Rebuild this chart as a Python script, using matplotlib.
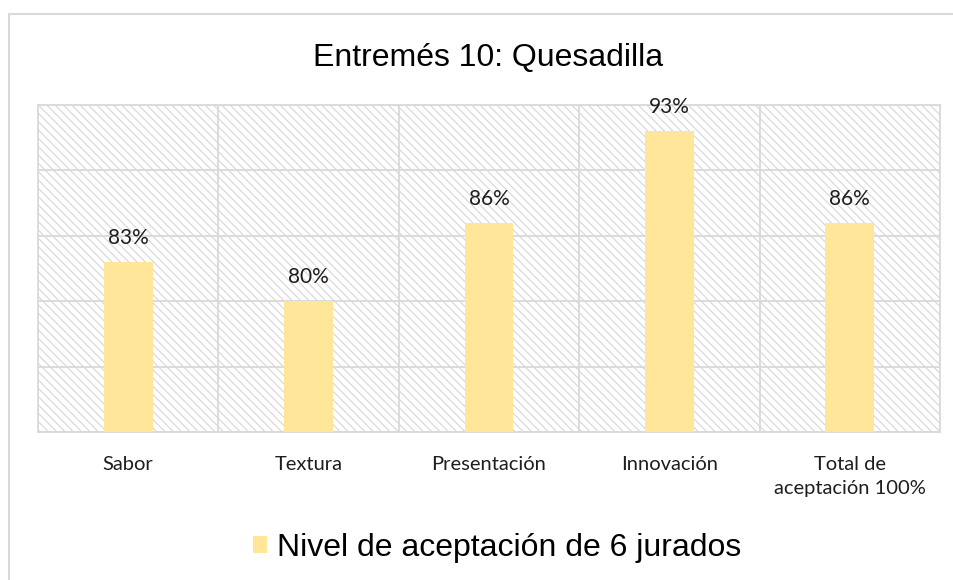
import matplotlib.pyplot as plt
from matplotlib.patches import Rectangle

categories = ["Sabor", "Textura", "Presentación", "Innovación", "Total de\naceptación 100%"]
values = [83, 80, 86, 93, 86]
series_name = "Nivel de aceptación de 6 jurados"
title = "Entremés 10: Quesadilla"

bar_color = "#FFE699"
grid_color = "#d9d9d9"
text_color = "#1e1e1e"
plt.rcParams["hatch.color"] = "#d6d6d6"
plt.rcParams["hatch.linewidth"] = 0.8

W, H = 954, 580
fig = plt.figure(figsize=(W / 100, H / 100), dpi=100)
fig.patch.set_facecolor("white")

# outer chart border
fig.patches.append(Rectangle((9 / W, -0.05), 1.0, 1 - 14 / H + 0.05, transform=fig.transFigure,
                             facecolor="none", edgecolor=grid_color, lw=1.5))

ax = fig.add_axes([38 / W, (H - 432) / H, (940 - 38) / W, (432 - 105) / H])
ax.add_patch(Rectangle((0, 0), 1, 1, transform=ax.transAxes, facecolor="white",
                       edgecolor="#d6d6d6", hatch="\\\\\\\\", lw=0, zorder=0))

x = list(range(len(categories)))
bars = ax.bar(x, values, width=0.27, color=bar_color, zorder=3, label=series_name)
ax.bar_label(bars, labels=[f"{v}%" for v in values], padding=10,
             fontsize=15, family="Lato", color=text_color)

ax.set_xlim(-0.5, len(categories) - 0.5)
ax.set_ylim(70, 95)
ax.set_yticks([70, 75, 80, 85, 90, 95])
ax.set_yticklabels([])
ax.set_xticks([i + 0.5 for i in range(len(categories) - 1)], minor=True)
ax.set_xticks(x)
ax.set_xticklabels(categories, fontsize=14.5, family="Lato", color=text_color,
                   linespacing=1.55)
ax.tick_params(axis="both", which="both", length=0)
ax.tick_params(axis="x", pad=17)
ax.grid(axis="y", color=grid_color, lw=1.3, zorder=1)
ax.grid(axis="x", which="minor", color=grid_color, lw=1.3, zorder=1)
for s in ax.spines.values():
    s.set_color(grid_color)
    s.set_linewidth(1.3)

fig.text(488 / W, 1 - 58 / H, title, ha="center", va="center", fontsize=23,
         family="Liberation Sans", color="black")

fig.legend(handles=[bars], labels=[series_name], loc="center",
           bbox_to_anchor=(497 / W, 1 - 548 / H), frameon=False,
           prop={"family": "Liberation Sans", "size": 23},
           handlelength=0.45, handleheight=0.45, handletextpad=0.3)

fig.savefig("out.png", dpi=100)
